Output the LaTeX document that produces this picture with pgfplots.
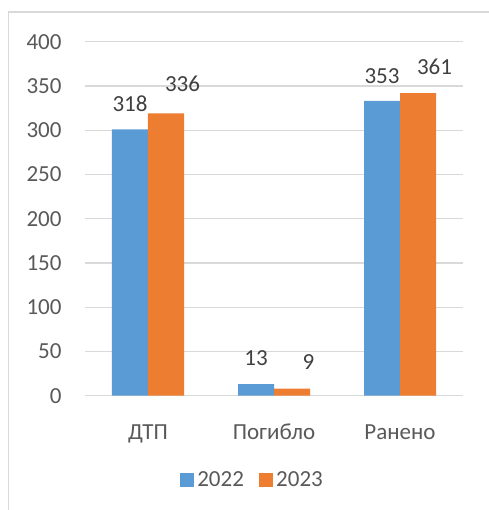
\documentclass[border=0pt]{standalone}
\usepackage{fontspec}
\setmainfont{Carlito}
\usepackage{pgfplots}
\pgfplotsset{compat=1.18}
\definecolor{cblue}{HTML}{5B9BD5}
\definecolor{corange}{HTML}{ED7D31}
\definecolor{ctext}{HTML}{595959}
\definecolor{clabel}{HTML}{404040}
\definecolor{cgrid}{HTML}{D9D9D9}
\newcommand{\chfont}{\fontsize{23bp}{27bp}\selectfont}

\begin{document}
\begin{tikzpicture}
\useasboundingbox (-85bp,-114.3bp) rectangle (404bp,395.7bp);
\draw[cgrid, line width=1.2bp] (-76.5bp,-120bp) -- (-76.5bp,383.7bp) -- (410bp,383.7bp);
\begin{axis}[
    at={(0,0)}, anchor=south west,
    scale only axis,
    width=378bp, height=354bp,
    ybar, bar width=36bp,
    xmin=-0.5, xmax=2.5,
    ymin=0, ymax=400,
    ytick={0,50,...,400},
    xtick={0,1,2},
    xticklabels={ДТП,Погибло,Ранено},
    /pgf/number format/assume math mode=true,
    ymajorgrids,
    grid style={cgrid, line width=1.2bp},
    axis line style={draw=none},
    tick style={draw=none},
    clip=false,
    yticklabel style={font=\chfont, text=ctext, anchor=east, inner sep=0pt, xshift=-23.3bp},
    xticklabel style={font=\chfont, text=ctext, anchor=base, inner sep=0pt, yshift=-39.3bp},
    legend image code/.code={\fill[#1] (0bp,-6.85bp) rectangle (13.7bp,6.85bp);},
    legend columns=2,
    legend style={
        at={(0.445,-0.238)}, anchor=center,
        draw=none, fill=none,
        font=\chfont, text=ctext,
        inner sep=0pt,
        nodes={inner sep=3.3bp},
        /tikz/every even column/.append style={column sep=12bp},
    },
]
% bar heights as drawn
\addplot[fill=cblue, draw=none, bar shift=-18bp, forget plot] coordinates {(0,301) (1,13) (2,333)};
\addplot[fill=corange, draw=none, bar shift=18bp, forget plot] coordinates {(0,319) (1,8) (2,342)};
% data labels (text as shown in the chart)
\addplot[draw=none, fill=none, bar shift=-18bp, forget plot,
    nodes near coords, point meta=explicit symbolic,
    every node near coord/.append style={anchor=base, inner sep=0pt, font=\chfont, text=clabel}]
    coordinates {(0,320.9)[318] (1,33.6)[13] (2,353)[353]};
\addplot[draw=none, fill=none, bar shift=18bp, forget plot,
    nodes near coords, point meta=explicit symbolic,
    every node near coord/.append style={anchor=base, inner sep=0pt, xshift=16.5bp, font=\chfont, text=clabel}]
    coordinates {(0,343.5)[336] (1,29.3)[9] (2,363.5)[361]};
\addlegendimage{fill=cblue, draw=none}
\addlegendentry{2022}
\addlegendimage{fill=corange, draw=none}
\addlegendentry{2023}
\end{axis}
\end{tikzpicture}
\end{document}
